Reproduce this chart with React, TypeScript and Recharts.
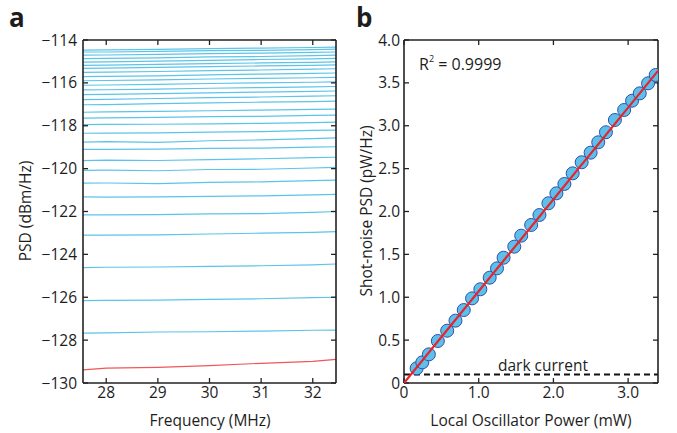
import React from 'react';
import {
  LineChart,
  Line,
  ComposedChart,
  Scatter,
  XAxis,
  YAxis,
  ReferenceLine,
} from 'recharts';

// panel a: PSD traces vs frequency
const freqs = [27.55, 28, 29, 30, 31, 32, 32.45];
const blueTraces = [
  [-114.47, -114.46, -114.44, -114.4, -114.38, -114.35, -114.33],
  [-114.56, -114.56, -114.53, -114.5, -114.48, -114.45, -114.43],
  [-114.71, -114.7, -114.67, -114.64, -114.61, -114.58, -114.56],
  [-114.87, -114.86, -114.83, -114.79, -114.77, -114.73, -114.71],
  [-115.03, -115.02, -114.99, -114.95, -114.91, -114.88, -114.86],
  [-115.18, -115.17, -115.14, -115.1, -115.07, -115.04, -115.02],
  [-115.32, -115.31, -115.28, -115.24, -115.21, -115.18, -115.16],
  [-115.51, -115.5, -115.47, -115.43, -115.4, -115.36, -115.34],
  [-115.71, -115.7, -115.67, -115.63, -115.59, -115.56, -115.54],
  [-115.9, -115.89, -115.86, -115.82, -115.79, -115.76, -115.74],
  [-116.11, -116.1, -116.07, -116.03, -116.0, -115.97, -115.95],
  [-116.33, -116.32, -116.29, -116.25, -116.22, -116.19, -116.17],
  [-116.55, -116.54, -116.5, -116.47, -116.43, -116.4, -116.38],
  [-116.78, -116.77, -116.73, -116.69, -116.66, -116.62, -116.6],
  [-117.02, -117.01, -116.97, -116.93, -116.9, -116.87, -116.85],
  [-117.37, -117.35, -117.33, -117.3, -117.27, -117.24, -117.22],
  [-117.64, -117.63, -117.61, -117.57, -117.56, -117.52, -117.5],
  [-117.95, -117.94, -117.93, -117.91, -117.89, -117.85, -117.83],
  [-118.35, -118.34, -118.33, -118.3, -118.27, -118.22, -118.2],
  [-118.76, -118.74, -118.78, -118.7, -118.66, -118.6, -118.57],
  [-119.1, -119.1, -119.09, -119.06, -119.04, -119.0, -118.98],
  [-119.63, -119.6, -119.62, -119.58, -119.54, -119.49, -119.47],
  [-120.08, -120.07, -120.1, -120.04, -120.03, -119.97, -119.94],
  [-120.68, -120.67, -120.7, -120.64, -120.62, -120.56, -120.54],
  [-121.32, -121.33, -121.32, -121.29, -121.27, -121.22, -121.2],
  [-122.16, -122.16, -122.15, -122.11, -122.1, -122.04, -122.0],
  [-123.1, -123.1, -123.09, -123.05, -123.01, -122.97, -122.94],
  [-124.62, -124.6, -124.59, -124.56, -124.53, -124.49, -124.45],
  [-126.16, -126.15, -126.13, -126.1, -126.07, -126.02, -126.0],
  [-127.67, -127.66, -127.62, -127.61, -127.58, -127.54, -127.53],
];
const darkTrace = [-129.39, -129.31, -129.27, -129.19, -129.08, -128.99, -128.9];
const psdTicks = [-130, -128, -126, -124, -122, -120, -118, -116, -114];
const freqTicks = [28, 29, 30, 31, 32];

// panel b: shot noise vs LO power
const loPower = [
  0.169, 0.245, 0.333, 0.453, 0.578, 0.689, 0.8, 0.911, 1.022, 1.147, 1.245, 1.333, 1.476, 1.569, 1.702,
  1.813, 1.933, 2.04, 2.147, 2.258, 2.378, 2.498, 2.6, 2.703, 2.823, 2.947, 3.053, 3.156, 3.267, 3.369,
];
const shotPsd = [
  0.171, 0.241, 0.334, 0.49, 0.61, 0.727, 0.851, 0.987, 1.093, 1.228, 1.337, 1.461, 1.59, 1.718, 1.843,
  1.959, 2.096, 2.212, 2.321, 2.445, 2.574, 2.686, 2.807, 2.924, 3.067, 3.184, 3.292, 3.378, 3.495, 3.592,
];
const fitPower = [0, 3.4];
const fitPsd = [0, 3.64];
const darkLevel = 0.1;
const powerTicks = [0, 1, 2, 3];
const shotTicks = [0, 0.5, 1, 1.5, 2, 2.5, 3, 3.5, 4];

const traceRows = freqs.map((f, i) => {
  const row: any = { f, dark: darkTrace[i] };
  blueTraces.forEach((t, k) => (row['s' + k] = t[i]));
  return row;
});
const points = loPower.map((p, i) => ({ p, psd: shotPsd[i] }));
const fitLine = fitPower.map((p, i) => ({ p, psd: fitPsd[i] }));

const FONT = '"Open Sans", sans-serif';
const tickStyle = { fontSize: 15.5, fill: '#1d1d1d', fontFamily: FONT };
const axisLine = { stroke: '#222', strokeWidth: 1.6 };
const tickLine = { stroke: '#222', strokeWidth: 1.3 };
const blank = () => '';
const fmtB = (v: number) => (v === 0 ? '0' : v.toFixed(1));
const fmtA = (v: number) => '\u2212' + Math.abs(v);

const Dot = (props: any) => (
  <circle cx={props.cx} cy={props.cy} r={6.5} fill="#5cc0ea" stroke="#3050a8" strokeWidth={1} />
);
const NoDot = () => null;

const txt: React.CSSProperties = {
  position: 'absolute',
  fontFamily: FONT,
  fontSize: 15.5,
  color: '#1d1d1d',
  whiteSpace: 'nowrap',
  lineHeight: 1.2,
};

export default function App() {
  return (
    <div style={{ position: 'absolute', left: 0, top: 0, width: 677, height: 433, background: '#fff', overflow: 'hidden' }}>
      <div style={{ position: 'absolute', left: 0, top: 0 }}>
        <LineChart width={345} height={433} data={traceRows} margin={{ top: 0, right: 0, bottom: 0, left: 0 }}>
          <XAxis dataKey="f" type="number" domain={[27.55, 32.45]} ticks={freqTicks} allowDataOverflow
            height={50} tickSize={-5} tickMargin={9} tick={tickStyle} axisLine={axisLine} tickLine={tickLine} />
          <XAxis xAxisId="t" orientation="top" dataKey="f" type="number" domain={[27.55, 32.45]} ticks={freqTicks}
            allowDataOverflow height={40} tickSize={-5} tickFormatter={blank} axisLine={axisLine} tickLine={tickLine} />
          <YAxis type="number" domain={[-130, -114]} ticks={psdTicks} allowDataOverflow width={83}
            tickSize={-5} tickMargin={11} tick={tickStyle} tickFormatter={fmtA} axisLine={axisLine} tickLine={tickLine} />
          <YAxis yAxisId="r" orientation="right" type="number" domain={[-130, -114]} ticks={psdTicks}
            allowDataOverflow width={9} tickSize={-5} tickFormatter={blank} axisLine={axisLine} tickLine={tickLine} />
          {blueTraces.map((_, k) => (
            <Line key={k} dataKey={'s' + k} stroke="#5cc4e8" strokeWidth={1.2} dot={false} isAnimationActive={false} />
          ))}
          <Line dataKey="dark" stroke="#f0565a" strokeWidth={1.2} dot={false} isAnimationActive={false} />
        </LineChart>
      </div>

      <div style={{ position: 'absolute', left: 340, top: 0 }}>
        <ComposedChart width={337} height={433} margin={{ top: 0, right: 0, bottom: 0, left: 0 }}>
          <XAxis dataKey="p" type="number" domain={[0, 3.4]} ticks={powerTicks} allowDataOverflow
            height={50} tickSize={-5} tickMargin={9} tick={tickStyle} tickFormatter={fmtB} axisLine={axisLine} tickLine={tickLine} />
          <XAxis xAxisId="t" orientation="top" dataKey="p" type="number" domain={[0, 3.4]} ticks={powerTicks}
            allowDataOverflow height={40} tickSize={-5} tickFormatter={blank} axisLine={axisLine} tickLine={tickLine} />
          <YAxis dataKey="psd" type="number" domain={[0, 4]} ticks={shotTicks} allowDataOverflow width={64}
            tickSize={-5} tickMargin={9} tick={tickStyle} tickFormatter={fmtB} axisLine={axisLine} tickLine={tickLine} />
          <YAxis yAxisId="r" orientation="right" type="number" domain={[0, 4]} ticks={shotTicks}
            allowDataOverflow width={19} tickSize={-5} tickFormatter={blank} axisLine={axisLine} tickLine={tickLine} />
          <ReferenceLine y={darkLevel} stroke="#111" strokeWidth={2} strokeDasharray="6 4" />
          <Scatter data={points} shape={Dot} isAnimationActive={false} />
          <Scatter data={fitLine} shape={NoDot} line={{ stroke: '#e8232b', strokeWidth: 2.2 }} isAnimationActive={false} />
        </ComposedChart>
      </div>

      <div style={{ ...txt, left: 9, top: 4, fontSize: 26, fontWeight: 700, lineHeight: 1 }}>a</div>
      <div style={{ ...txt, left: 356, top: 4, fontSize: 26, fontWeight: 700, lineHeight: 1 }}>b</div>
      <div style={{ ...txt, left: 25, top: 211, transform: 'translate(-50%, -50%) rotate(-90deg)' }}>PSD (dBm/Hz)</div>
      <div style={{ ...txt, left: 210, top: 420, transform: 'translate(-50%, -50%)' }}>Frequency (MHz)</div>
      <div style={{ ...txt, left: 366, top: 211, transform: 'translate(-50%, -50%) rotate(-90deg)' }}>Shot-noise PSD (pW/Hz)</div>
      <div style={{ ...txt, left: 531, top: 420, transform: 'translate(-50%, -50%)' }}>Local Oscillator Power (mW)</div>
      <div style={{ ...txt, left: 419, top: 55, fontSize: 16 }}>
        R<sup style={{ fontSize: 9, verticalAlign: 'top', position: 'relative', top: -1 }}>2</sup> = 0.9999
      </div>
      <div style={{ ...txt, left: 498, top: 356 }}>dark current</div>
    </div>
  );
}
